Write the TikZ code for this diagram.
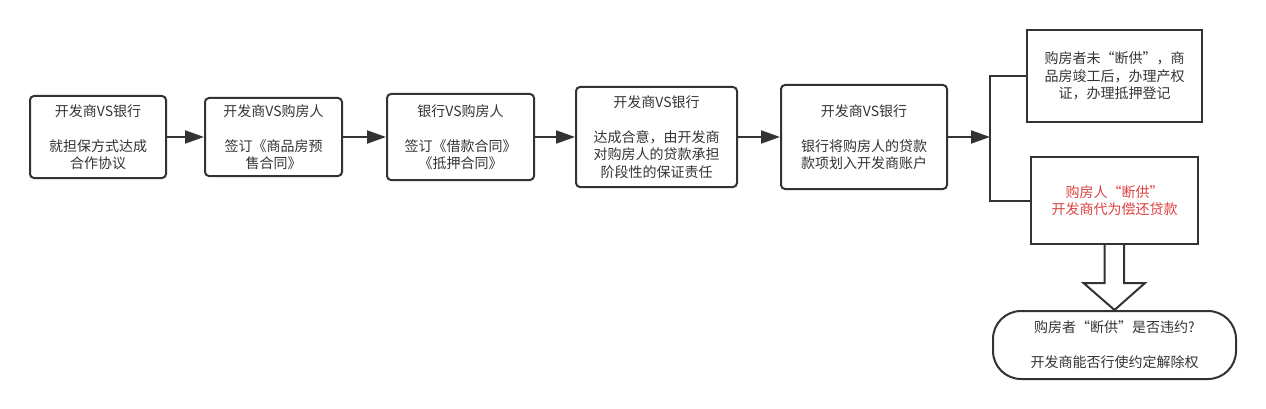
\documentclass[tikz,border=0pt]{standalone}
\usepackage{fontspec}
\setmainfont{Noto Sans CJK SC}
\usetikzlibrary{arrows.meta,calc}
\definecolor{ink}{HTML}{333333}
\definecolor{warn}{RGB}{222,64,64}
\begin{document}
\begin{tikzpicture}[x=1pt,y=-1pt,
  box/.style={draw=ink,line width=2pt,rounded corners=4pt,align=center,text=ink,
    font=\fontsize{14}{17.5}\selectfont,inner sep=0pt},
  sbox/.style={box,rounded corners=0pt},
  arr/.style={draw=ink,line width=2pt,-{Triangle[length=19pt,width=13pt]}},
  link/.style={draw=ink,line width=2pt}]
\useasboundingbox (0,0) rectangle (1266,409);
\node[box,minimum width=136pt,minimum height=82pt] (b1) at (98,137)
  {开发商VS银行\\[17.5pt]就担保方式达成\\合作协议};
\node[box,minimum width=137pt,minimum height=78pt] (b2) at (273.5,137)
  {开发商VS购房人\\[17.5pt]签订《商品房预\\售合同》};
\node[box,minimum width=147pt,minimum height=86pt] (b3) at (460.5,137)
  {银行VS购房人\\[17.5pt]签订《借款合同》\\《抵押合同》};
\node[box,minimum width=161pt,minimum height=100pt] (b4) at (656.5,137)
  {开发商VS银行\\[17.5pt]达成合意，由开发商\\对购房人的贷款承担\\阶段性的保证责任};
\node[box,minimum width=166pt,minimum height=104pt] (b5) at (864,137)
  {开发商VS银行\\[17.5pt]银行将购房人的贷款\\款项划入开发商账户};
\node[sbox,minimum width=175pt,minimum height=92pt] (b6) at (1114.5,76)
  {购房者未“断供”，商\\品房竣工后，办理产权\\证，办理抵押登记};
\node[sbox,minimum width=167pt,minimum height=87pt,text=warn] (b7) at (1114.5,200.5)
  {购房人“断供”\\开发商代为偿还贷款};
\node[box,rounded corners=28pt,minimum width=243pt,minimum height=68pt] (b8) at (1114.5,345)
  {购房者“断供”是否违约?\\[17.5pt]开发商能否行使约定解除权};
\coordinate (J) at (990,137);
\draw[arr] (b1.east) -- (b2.west);
\draw[arr] (b2.east) -- (b3.west);
\draw[arr] (b3.east) -- (b4.west);
\draw[arr] (b4.east) -- (b5.west);
\draw[arr] (b5.east) -- (J);
\draw[link] (b6.west) -| (J) |- (b7.west);
\draw[link,line join=miter,fill=white] ($(b7.south)+(-10,0)$) -- ++(0,38) -- ++(-21,0)
  -- (b8.north) -- ($(b7.south)+(30.5,38)$) -- ++(-21,0) -- ($(b7.south)+(9.5,0)$);
\end{tikzpicture}
\end{document}
